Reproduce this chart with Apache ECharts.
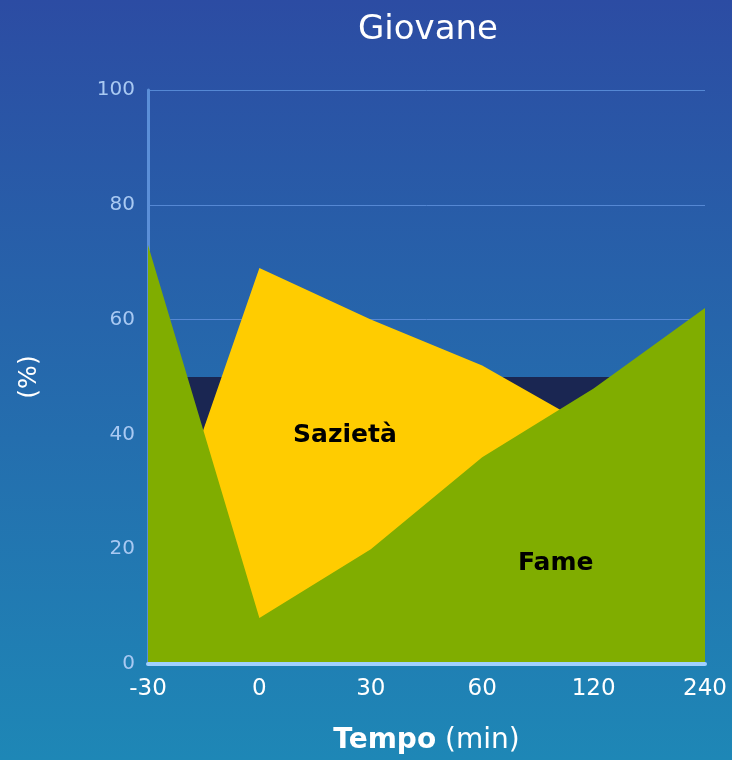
<!DOCTYPE html>
<html>
<head>
<meta charset="utf-8">
<script src="https://cdn.jsdelivr.net/npm/echarts@6/dist/echarts.min.js"></script>
<style>
  html, body { margin: 0; padding: 0; }
  #chart { width: 732px; height: 760px; }
</style>
</head>
<body>
<div id="chart"></div>
<script>
// tempo (min)
var categories = ["-30", "0", "30", "60", "120", "240"];
// sazieta / fame (%)
var sazieta = [13, 69, 60, 52, 41, 30];
var fame = [73, 8, 20, 36, 48, 62];
// dark band behind the curves
var soglia = [50, 50, 50, 50, 50, 50];
var yTicks = [0, 20, 40, 60, 80, 100];

var chart = echarts.init(document.getElementById("chart"));

function areaSeries(name, data, color) {
  return {
    name: name,
    type: "line",
    data: data,
    symbol: "none",
    silent: true,
    lineStyle: { width: 0 },
    areaStyle: { color: color, opacity: 1 },
  };
}

var option = {
  backgroundColor: new echarts.graphic.LinearGradient(0, 0, 0, 1, [
    { offset: 0, color: "#2c4ca3" },
    { offset: 1, color: "#1e87b6" },
  ]),
  textStyle: { fontFamily: "DejaVu Sans" },
  title: {
    text: "Giovane",
    left: 423,
    textAlign: "center",
    top: 8,
    textStyle: { color: "#fff", fontSize: 34, fontWeight: "normal" },
  },
  grid: { left: 148, right: 27, top: 90, bottom: 96 },
  xAxis: {
    type: "category",
    data: categories,
    boundaryGap: false,
    axisLine: { lineStyle: { color: "#a0d0ff", width: 4 } },
    axisTick: { show: false },
    axisLabel: { color: "#fff", fontSize: 23, margin: 14 },
    name: "{b|Tempo} (min)",
    nameLocation: "middle",
    nameGap: 63,
    nameTextStyle: {
      color: "#fff",
      fontSize: 28,
      rich: { b: { fontWeight: "bold", fontSize: 28, color: "#fff" } },
    },
    z: 10,
  },
  yAxis: {
    type: "value",
    min: yTicks[0],
    max: yTicks[yTicks.length - 1],
    interval: 20,
    axisLine: { show: true, lineStyle: { color: "#5b8fd8", width: 3 } },
    axisTick: { show: false },
    axisLabel: { color: "#a9c9f2", fontSize: 20, margin: 13 },
    splitLine: { lineStyle: { color: "#5588d4", width: 1 } },
    name: "(%)",
    nameLocation: "middle",
    nameRotate: 90,
    nameGap: 106,
    nameTextStyle: { color: "#fff", fontSize: 25 },
  },
  series: [
    areaSeries("soglia", soglia, "#1a2652"),
    areaSeries("Sazietà", sazieta, "#ffcc00"),
    areaSeries("Fame", fame, "#80ad00"),
  ],
  graphic: [
    {
      type: "text",
      left: 293,
      top: 423,
      z: 100,
      style: { text: "Sazietà", fill: "#000", font: "bold 25px DejaVu Sans" },
    },
    {
      type: "text",
      left: 518,
      top: 551,
      z: 100,
      style: { text: "Fame", fill: "#000", font: "bold 25px DejaVu Sans" },
    },
  ],
};

chart.setOption(option);
</script>
</body>
</html>
